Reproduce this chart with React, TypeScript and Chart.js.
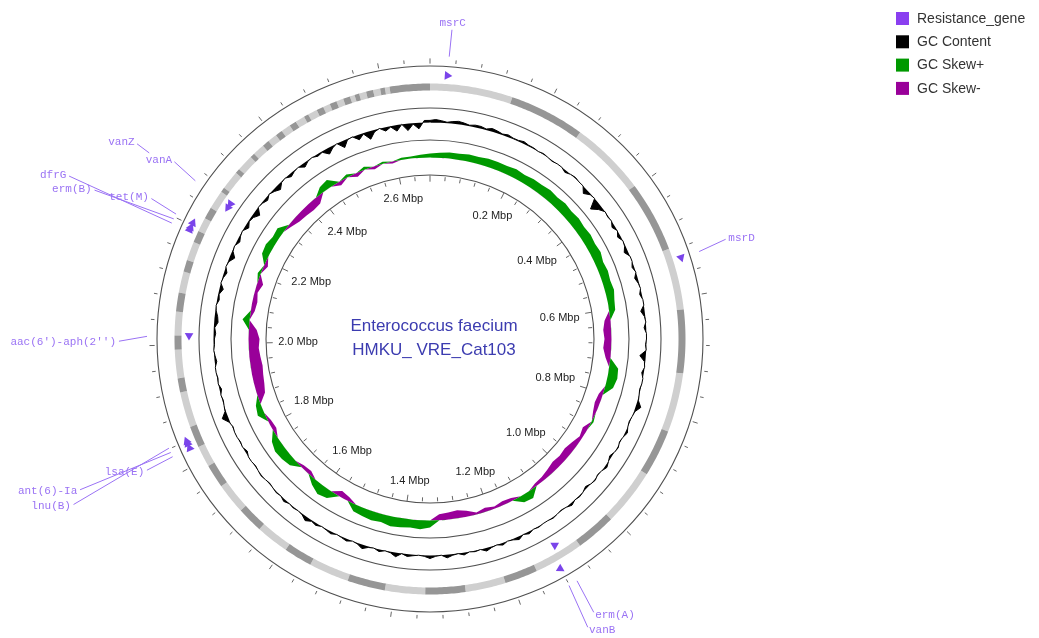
import { useEffect, useRef } from 'react';
import { Chart, registerables } from 'chart.js';

Chart.register(...registerables);

const WIDTH = 1039;
const HEIGHT = 638;

// ---------- genome data ----------
const GENOME_KB = 2680;
const BIN_KB = 4;

const mbpTickKb = [200, 400, 600, 800, 1000, 1200, 1400, 1600, 1800, 2000, 2200, 2400, 2600];
const mbpTickLabels = [
  '0.2 Mbp', '0.4 Mbp', '0.6 Mbp', '0.8 Mbp', '1.0 Mbp', '1.2 Mbp', '1.4 Mbp',
  '1.6 Mbp', '1.8 Mbp', '2.0 Mbp', '2.2 Mbp', '2.4 Mbp', '2.6 Mbp',
];

// contig start positions (kb); shading alternates light / dark
const contigStartKb = [
  0, 141, 268, 395, 514, 618, 726, 826, 908, 1005, 1072, 1154, 1213, 1280, 1347, 1414,
  1481, 1548, 1597, 1650, 1696, 1748, 1787, 1824, 1858, 1918, 1943, 1991, 2014, 2055,
  2088, 2122, 2144, 2174, 2196, 2221, 2241, 2270, 2281, 2311, 2321, 2346, 2356, 2377,
  2387, 2404, 2415, 2432, 2442, 2459, 2469, 2483, 2494, 2507, 2518, 2532, 2542, 2551,
  2561, 2573, 2583, 2595, 2605, 2613,
];

const geneNames = [
  'msrC', 'msrD', 'erm(A)', 'vanB', 'lsa(E)', 'ant(6)-Ia', 'lnu(B)',
  "aac(6')-aph(2'')", 'dfrG', 'erm(B)', 'tet(M)', 'vanZ', 'vanA',
];
const geneKb = [29, 536, 1107, 1121, 1827, 1834, 1841, 2014, 2190, 2197, 2205, 2255, 2263];
const geneStrand = [1, 1, -1, 1, 1, 1, 1, -1, 1, 1, 1, -1, -1];

// GC content (%) in 240 consecutive windows starting at position 0
const gcContent = [
  38.6, 38.9, 38.6, 38.2, 38.6, 38.9, 38.6, 38.2, 38.6, 38.6, 38.2, 38.9, 38.6, 38.2, 38.6, 38.2, 38.2, 38.6, 38.2, 38.2,
  37.9, 38.2, 37.9, 37.6, 37.9, 37.9, 37.2, 37.9, 38.2, 37.9, 37.9, 36.2, 37.6, 37.9, 34.6, 36.6, 37.9, 37.6, 37.9, 36.9,
  37.9, 36.9, 37.9, 37.6, 36.6, 37.9, 37.9, 37.2, 37.9, 36.9, 37.6, 37.9, 37.2, 37.9, 37.9, 36.6, 37.6, 37.9, 37.2, 37.9,
  37.9, 37.6, 37.9, 35.9, 37.6, 37.9, 37.2, 37.9, 37.9, 37.6, 37.9, 38.2, 39.6, 38.2, 37.9, 37.6, 37.9, 38.6, 37.9, 37.6,
  38.2, 37.9, 37.2, 37.9, 38.6, 37.9, 37.6, 38.2, 37.9, 37.2, 37.9, 38.2, 37.9, 38.6, 37.9, 37.6, 37.9, 38.2, 37.9, 37.9,
  38.2, 37.9, 38.6, 37.9, 38.9, 38.2, 37.9, 38.6, 37.9, 38.2, 38.9, 37.9, 38.2, 37.9, 38.6, 37.9, 38.2, 38.9, 37.9, 38.2,
  38.9, 38.2, 37.9, 38.2, 38.6, 37.9, 39.2, 38.2, 37.9, 38.6, 37.9, 38.2, 39.2, 38.2, 37.9, 38.6, 38.2, 37.9, 38.6, 38.2,
  37.9, 38.6, 38.2, 39.2, 38.2, 37.9, 38.2, 37.9, 38.6, 37.9, 38.2, 37.9, 37.6, 37.9, 38.2, 37.9, 37.6, 37.9, 37.9, 37.2,
  37.9, 37.6, 37.9, 37.9, 37.6, 38.2, 39.9, 38.2, 37.9, 37.6, 37.9, 37.2, 37.9, 37.6, 37.9, 37.9, 37.2, 37.6, 37.9, 37.6,
  37.6, 37.2, 37.6, 36.6, 36.9, 37.6, 37.9, 37.2, 37.6, 36.6, 37.9, 37.6, 36.9, 37.9, 37.6, 36.2, 37.6, 37.9, 36.9, 37.6,
  37.9, 36.6, 37.6, 37.2, 35.9, 37.9, 37.6, 36.9, 37.9, 37.2, 36.2, 37.6, 37.9, 36.9, 37.6, 37.9, 36.6, 37.6, 37.9, 37.2,
  37.6, 35.9, 37.2, 37.9, 35.6, 37.6, 37.9, 36.2, 37.6, 35.2, 37.2, 37.9, 36.6, 37.6, 35.9, 37.9, 35.6, 37.6, 35.9, 38.6,
];
const GC_MEAN = 37.9;

// GC skew (G-C)/(G+C) in 120 consecutive windows starting at position 0
const gcSkew = [
  0.04, 0.05, 0.06, 0.06, 0.07, 0.07, 0.08, 0.08, 0.08, 0.09,
  0.08, 0.09, 0.09, 0.10, 0.09, 0.10, 0.09, 0.10, 0.09, 0.10,
  0.09, 0.10, 0.08, 0.09, 0.08, 0.09, 0.07, 0.06, -0.06, -0.08,
  -0.07, -0.08, -0.05, 0.09, 0.10, 0.08, -0.04, -0.05, -0.03, 0.02,
  -0.05, -0.03, -0.06, -0.08, -0.07, -0.08, -0.06, -0.04, -0.03, 0.08,
  0.07, -0.03, -0.04, -0.02, -0.04, -0.02, -0.06, -0.08, -0.07, -0.06,
  0.07, 0.09, 0.08, 0.09, 0.10, 0.08, 0.09, 0.08, 0.07, -0.04,
  -0.06, 0.08, 0.10, 0.06, -0.04, -0.03, 0.07, 0.09, 0.10, 0.07,
  -0.04, -0.03, 0.07, 0.05, -0.08, -0.10, -0.11, -0.12, -0.11, -0.10,
  -0.11, -0.08, 0.07, -0.04, -0.05, -0.03, -0.06, 0.03, -0.04, 0.07,
  0.08, 0.06, 0.07, -0.03, -0.06, -0.07, -0.08, -0.07, 0.06, 0.08,
  -0.04, 0.03, -0.04, 0.03, -0.03, 0.02, -0.02, 0.02, 0.02, 0.03,
];

const legendNames = ['Resistance_gene', 'GC Content', 'GC Skew+', 'GC Skew-'];

// ---------- layout & style ----------
const CENTER_X = 430;
const CENTER_Y = 339;
const SCALE_MAX = 298; // radial scale runs in pixels from the centre
const RING = {
  outer: 273, fwd: 264, band: 252, rev: 241, gcTop: 231, gcBase: 216.5,
  skewTop: 199, skewBase: 181.5, inner: 164, outerTick: 278, innerTick: 160.5,
  labelEdge: 152, leader: 283,
};
const GC_PX_PER_PCT = 3;
const SKEW_PX_PER_UNIT = 100;

const COLORS = {
  circle: '#505050',
  light: 'rgb(207,207,207)',
  dark: 'rgb(150,150,150)',
  arrow: '#7a44ea',
  geneText: '#9a72f4',
  legendGene: '#8a3ff0',
  gc: '#000000',
  skewPos: 'rgb(0,153,0)',
  skewNeg: 'rgb(153,0,153)',
  title: '#3c3cb0',
  tickText: '#222222',
  legendText: '#333333',
};

// label placement: angle (deg), radius (px), alignment, gap to leader, share of leader drawn
const geneLabelLayout: [number, number, CanvasTextAlign, number, number][] = [
  [4.1, 317, 'center', 7, 1],
  [71.3, 315, 'left', 3, 1],
  [149.1, 321.6, 'left', 3, 1],
  [151.35, 331.6, 'left', 3, 1],
  [245.1, 315, 'right', 3, 1],
  [246.7, 384, 'right', 3, 1],
  [245.05, 396, 'right', 3, 1],
  [269.5, 314, 'right', 3, 1],
  [294.3, 399, 'right', 3, 1],
  [293.9, 370, 'right', 3, 1],
  [296.8, 315, 'right', 3, 1],
  [303.7, 355, 'right', 3, 0.22],
  [304.8, 314, 'right', 3, 1],
];

const PADDING = {
  left: CENTER_X - SCALE_MAX,
  right: WIDTH - CENTER_X - SCALE_MAX,
  top: CENTER_Y - SCALE_MAX,
  bottom: HEIGHT - CENTER_Y - SCALE_MAX,
};

const MAP_BINS = GENOME_KB / BIN_KB;
const mapLabels = Array.from({ length: MAP_BINS }, (_, i) => i * BIN_KB);
const binAngle = (i: number, n: number) => (i / n) * 360;

// band runs for light (parity 0) or dark (parity 1) contigs; neighbours share their boundary bin
function contigBand(parity: number) {
  const row: (number | null)[] = mapLabels.map(() => null);
  contigStartKb.forEach((kb, j) => {
    if (j % 2 !== parity) return;
    const end = j + 1 < contigStartKb.length ? contigStartKb[j + 1] : GENOME_KB;
    const b0 = Math.round(kb / BIN_KB);
    const b1 = Math.round(end / BIN_KB);
    for (let b = b0; b <= b1; b++) row[b % MAP_BINS] = RING.band;
  });
  return row;
}

function geneRow(strand: number) {
  const row: (number | null)[] = mapLabels.map(() => null);
  geneKb.forEach((kb, g) => {
    if (geneStrand[g] === strand) row[Math.round(kb / BIN_KB)] = strand > 0 ? RING.fwd : RING.rev;
  });
  return row;
}

const baseScale = (showGrid: boolean) => ({
  r: {
    min: 0,
    max: SCALE_MAX,
    startAngle: 0,
    angleLines: { display: false },
    pointLabels: { display: false },
    ticks: { display: false },
    grid: { display: showGrid, circular: true, color: COLORS.circle, lineWidth: 1.1 },
    afterBuildTicks: (scale: any) => {
      scale.ticks = [0, RING.inner, RING.skewTop, RING.gcTop, RING.outer].map((v) => ({ value: v }));
    },
  },
});

const commonOptions = (showGrid: boolean) => ({
  responsive: false,
  maintainAspectRatio: false,
  animation: false as const,
  devicePixelRatio: 1,
  events: [] as any[],
  spanGaps: false,
  layout: { padding: PADDING },
  plugins: { legend: { display: false }, tooltip: { enabled: false }, title: { display: false } },
  elements: { line: { tension: 0 }, point: { radius: 0, hitRadius: 0 } },
  scales: baseScale(showGrid),
});

// text: Mbp labels, gene labels with leaders, title, legend
const textPlugin = {
  id: 'mapText',
  afterDraw(chart: any) {
    const ctx: CanvasRenderingContext2D = chart.ctx;
    const scale = chart.scales.r;
    const n = chart.data.labels.length;
    ctx.save();

    // Mbp labels inside the inner circle
    ctx.font = '11px "Liberation Sans", Arial, sans-serif';
    ctx.fillStyle = COLORS.tickText;
    ctx.textAlign = 'center';
    ctx.textBaseline = 'middle';
    mbpTickKb.forEach((kb, j) => {
      const idx = kb / BIN_KB;
      const a = scale.getIndexAngle(idx) - Math.PI / 2;
      const w = ctx.measureText(mbpTickLabels[j]).width;
      const d = RING.labelEdge - (Math.abs(Math.cos(a)) * w) / 2 - (Math.abs(Math.sin(a)) * 11) / 2;
      const p = scale.getPointPosition(idx, d);
      ctx.fillText(mbpTickLabels[j], p.x, p.y);
    });

    // resistance gene labels
    ctx.font = '11px "Liberation Mono", "DejaVu Sans Mono", monospace';
    ctx.strokeStyle = COLORS.geneText;
    ctx.fillStyle = COLORS.geneText;
    ctx.lineWidth = 1;
    geneNames.forEach((name, g) => {
      const [deg, r, align, gap, share] = geneLabelLayout[g];
      const anchor = scale.getPointPosition((deg / 360) * n, r);
      const tip = scale.getPointPosition(geneKb[g] / BIN_KB, RING.leader);
      const dx = tip.x - anchor.x;
      const dy = tip.y - anchor.y;
      const len = Math.hypot(dx, dy);
      const sx = anchor.x + (dx / len) * gap;
      const sy = anchor.y + (dy / len) * gap;
      ctx.beginPath();
      ctx.moveTo(sx, sy);
      ctx.lineTo(sx + (tip.x - sx) * share, sy + (tip.y - sy) * share);
      ctx.stroke();
      ctx.textAlign = align;
      ctx.fillText(name, anchor.x, anchor.y);
    });

    // title
    ctx.font = '17px "Liberation Sans", Arial, sans-serif';
    ctx.fillStyle = COLORS.title;
    ctx.textAlign = 'center';
    ctx.fillText('Enterococcus faecium', scale.xCenter + 4, scale.yCenter - 13);
    ctx.fillText('HMKU_ VRE_Cat103', scale.xCenter + 4, scale.yCenter + 11);

    // legend
    const legendColors = [COLORS.legendGene, COLORS.gc, COLORS.skewPos, COLORS.skewNeg];
    ctx.font = '14px "Liberation Sans", Arial, sans-serif';
    ctx.textAlign = 'left';
    legendNames.forEach((name, i) => {
      const y = 12 + i * 23.3;
      ctx.fillStyle = legendColors[i];
      ctx.fillRect(896, y, 13, 13);
      ctx.fillStyle = COLORS.legendText;
      ctx.fillText(name, 917, y + 7);
    });
    ctx.restore();
  },
};

function mapConfig(): any {
  const n = MAP_BINS;
  const tickRotation = (c: any) => binAngle(c.dataIndex, n) - 90;
  const bandSet = (parity: number, color: string) => ({
    label: parity ? 'contigs (dark)' : 'contigs (light)',
    data: contigBand(parity),
    fill: false,
    borderWidth: 7,
    borderColor: color,
    pointRadius: 0,
  });
  return {
    type: 'radar',
    data: {
      labels: mapLabels,
      datasets: [
        {
          label: 'forward genes',
          data: geneRow(1),
          showLine: false,
          fill: false,
          pointStyle: 'triangle',
          pointRadius: 5,
          pointBorderWidth: 0,
          pointBackgroundColor: COLORS.arrow,
          pointRotation: (c: any) => binAngle(c.dataIndex, n) + 90,
        },
        {
          label: 'reverse genes',
          data: geneRow(-1),
          showLine: false,
          fill: false,
          pointStyle: 'triangle',
          pointRadius: 5,
          pointBorderWidth: 0,
          pointBackgroundColor: COLORS.arrow,
          pointRotation: (c: any) => binAngle(c.dataIndex, n) - 90,
        },
        bandSet(1, COLORS.dark),
        bandSet(0, COLORS.light),
        {
          label: 'outer ticks',
          data: mapLabels.map((_, i) => (i % 10 === 0 ? RING.outerTick : null)),
          showLine: false,
          fill: false,
          pointStyle: 'line',
          pointRadius: (c: any) => (c.dataIndex % 50 === 0 ? 2.6 : 1.8),
          pointBorderWidth: 1,
          pointBorderColor: '#666',
          pointRotation: tickRotation,
        },
        {
          label: 'inner ticks',
          data: mapLabels.map((_, i) => (i % 10 === 0 ? RING.innerTick : null)),
          showLine: false,
          fill: false,
          pointStyle: 'line',
          pointRadius: (c: any) => (c.dataIndex % 50 === 0 ? 3.2 : 2),
          pointBorderWidth: 1,
          pointBorderColor: '#666',
          pointRotation: tickRotation,
        },
      ],
    },
    options: commonOptions(true),
    plugins: [textPlugin],
  };
}

function gcContentConfig(): any {
  return {
    type: 'radar',
    data: {
      labels: gcContent.map((_, i) => i),
      datasets: [
        {
          label: 'GC Content',
          data: gcContent.map((g) => RING.gcBase + (g - GC_MEAN) * GC_PX_PER_PCT),
          borderColor: COLORS.gc,
          backgroundColor: COLORS.gc,
          borderWidth: 1,
          pointRadius: 0,
          fill: { value: RING.gcBase },
        },
      ],
    },
    options: commonOptions(false),
  };
}

function gcSkewConfig(): any {
  return {
    type: 'radar',
    data: {
      labels: gcSkew.map((_, i) => i),
      datasets: [
        {
          label: 'GC Skew+',
          data: gcSkew.map((s) => RING.skewBase + Math.max(s, 0) * SKEW_PX_PER_UNIT),
          backgroundColor: COLORS.skewPos,
          showLine: false,
          pointRadius: 0,
          fill: { value: RING.skewBase },
        },
        {
          label: 'GC Skew-',
          data: gcSkew.map((s) => RING.skewBase + Math.min(s, 0) * SKEW_PX_PER_UNIT),
          backgroundColor: COLORS.skewNeg,
          showLine: false,
          pointRadius: 0,
          fill: { value: RING.skewBase },
        },
      ],
    },
    options: commonOptions(false),
  };
}

export default function App() {
  const mapRef = useRef<HTMLCanvasElement>(null);
  const gcRef = useRef<HTMLCanvasElement>(null);
  const skewRef = useRef<HTMLCanvasElement>(null);

  useEffect(() => {
    const charts = [
      new Chart(mapRef.current as HTMLCanvasElement, mapConfig()),
      new Chart(gcRef.current as HTMLCanvasElement, gcContentConfig()),
      new Chart(skewRef.current as HTMLCanvasElement, gcSkewConfig()),
    ];
    return () => charts.forEach((c) => c.destroy());
  }, []);

  const canvasStyle: any = { position: 'absolute', left: 0, top: 0, width: WIDTH, height: HEIGHT };
  return (
    <div style={{ position: 'fixed', left: 0, top: 0, width: WIDTH, height: HEIGHT, background: '#fff' }}>
      <canvas ref={mapRef} width={WIDTH} height={HEIGHT} style={canvasStyle} />
      <canvas ref={gcRef} width={WIDTH} height={HEIGHT} style={canvasStyle} />
      <canvas ref={skewRef} width={WIDTH} height={HEIGHT} style={canvasStyle} />
    </div>
  );
}
